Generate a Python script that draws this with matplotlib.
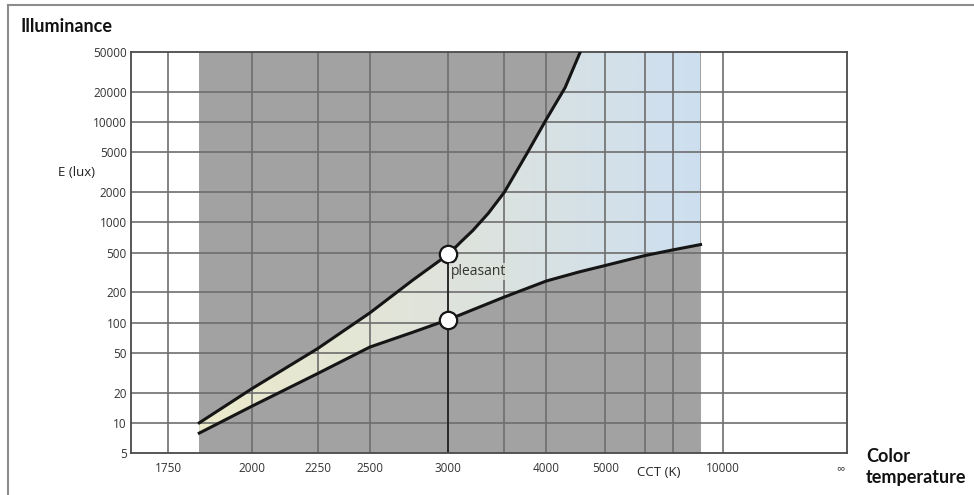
import numpy as np
import matplotlib
matplotlib.use('Agg')
import matplotlib.pyplot as plt
from matplotlib.colors import LinearSegmentedColormap
from matplotlib.patches import Polygon
from matplotlib.lines import Line2D
from matplotlib.ticker import NullLocator

plt.rcParams['font.family'] = ['Open Sans', 'DejaVu Sans']

# Kruithof boundaries: CCT (K) vs illuminance (lux)
upper_cct = [1835, 2000, 2250, 2500, 2750, 3000, 3100, 3200, 3340, 3500, 3760, 4000, 4270, 4520]
upper_lux = [10, 22, 55, 125, 265, 480, 640, 830, 1230, 2000, 5000, 10700, 22000, 50000]
lower_cct = [1835, 2000, 2250, 2500, 2750, 3000, 3500, 4000, 4500, 5000, 6000, 7000, 8400]
lower_lux = [7.9, 14.7, 31, 57, 80, 107, 180, 260, 320, 371, 465, 530, 600]

cct_ticks = [1750, 2000, 2250, 2500, 3000, 4000, 5000, 10000, np.inf]
cct_labels = ['1750', '2000', '2250', '2500', '3000', '4000', '5000', '10000', '∞']
cct_grid = [1750, 2000, 2250, 2500, 3000, 3500, 4000, 5000, 6000, 7000, 10000]
lux_ticks = [5, 10, 20, 50, 100, 200, 500, 1000, 2000, 5000, 10000, 20000, 50000]
cct_band = [1835, 8400]
marked_cct = 3000


def mired(t):
    # reciprocal colour temperature, so infinity lands at 0
    return 1e6 / np.asarray(t, dtype=float)


GRAY = '#a2a2a2'
GRID = '#6e6e6e'
INK = '#151515'

fig = plt.figure(figsize=(9.74, 4.95), dpi=100)
ax = fig.add_axes([131 / 974, 42 / 495, 716 / 974, 401 / 495])
ax.set_yscale('log')

mu = mired(upper_cct)
ml = mired(lower_cct)

ax.axvspan(*mired(cct_band), color=GRAY, lw=0, zorder=0)

# pleasant zone between the two curves, closed along the top edge
verts = (list(zip(ml, lower_lux)) + [(ml[-1], lux_ticks[-1])]
         + list(zip(mu[::-1], upper_lux[::-1])))
zone = Polygon(verts, closed=True, facecolor='none', edgecolor='none')
ax.add_patch(zone)

cmap = LinearSegmentedColormap.from_list('warm_cold', ['#ebeacb', '#dfe3dc', '#cddff0'])
gradient = np.linspace(0, 1, 256).reshape(1, -1)
im = ax.imshow(gradient, cmap=cmap, aspect='auto', origin='lower',
               extent=[ml[0], ml[-1], lux_ticks[0], lux_ticks[-1]],
               interpolation='bilinear', zorder=0.5)
im.set_clip_path(zone)

for t in cct_grid:
    ax.axvline(mired(t), color=GRID, lw=1.2, zorder=1)
for v in lux_ticks[1:-1]:
    ax.axhline(v, color=GRID, lw=1.2, zorder=1)

ax.plot(mu, upper_lux, color=INK, lw=2.2, zorder=3, solid_joinstyle='round')
ax.plot(ml, lower_lux, color=INK, lw=2.2, zorder=3, solid_joinstyle='round')

iu = upper_cct.index(marked_cct)
il = lower_cct.index(marked_cct)
m3 = mired(marked_cct)
ax.plot([m3, m3], [lux_ticks[0], upper_lux[iu]], color=INK, lw=1.1, zorder=2.5)
ax.plot([m3, m3], [upper_lux[iu], lower_lux[il]], 'o', ms=12.5,
        mfc='white', mec=INK, mew=1.6, zorder=4)
ax.annotate('pleasant', xy=(m3, upper_lux[iu]), xytext=(1.5, -7),
            textcoords='offset points', ha='left', va='top', fontsize=10,
            color='#333333', zorder=5,
            bbox=dict(boxstyle='square,pad=0.1', fc='#dfe3dd', ec='none', alpha=0.8))

ax.set_xlim(603, -5.4)
ax.set_ylim(lux_ticks[0], lux_ticks[-1])
ax.set_xticks(mired(cct_ticks), cct_labels)
ax.set_yticks(lux_ticks, [str(v) for v in lux_ticks])
ax.yaxis.set_minor_locator(NullLocator())
ax.xaxis.set_minor_locator(NullLocator())
ax.tick_params(axis='both', length=0, labelsize=8.5, labelcolor='#333333')
ax.tick_params(axis='x', pad=6.5)
ax.tick_params(axis='y', pad=3)
for s in ax.spines.values():
    s.set_color('#4a4a4a')
    s.set_linewidth(1.3)

fig.text(21 / 974, 1 - 27 / 495, 'Illuminance', fontsize=13, fontweight='bold',
         family=['Lato', 'DejaVu Sans'], va='center', color='#111111')
fig.text(58 / 974, 1 - 173 / 495, 'E (lux)', fontsize=9.5, va='center', color='#222222')
fig.text(659 / 974, 1 - 472 / 495, 'CCT (K)', fontsize=9.5, ha='center', va='center',
         color='#222222')
fig.text(866 / 974, 1 - 467 / 495, 'Color\ntemperature', fontsize=13, fontweight='bold',
         family=['Lato', 'DejaVu Sans'], va='center', ha='left', linespacing=1.3,
         color='#111111')

# frame lines along the top and left edge of the image
fig.add_artist(Line2D([8 / 974, 1], [1 - 5 / 495] * 2, color='#8c8c8c', lw=1.5))
fig.add_artist(Line2D([8 / 974] * 2, [0, 1 - 5 / 495], color='#8c8c8c', lw=1.5))

fig.savefig('out.png', dpi=100)
